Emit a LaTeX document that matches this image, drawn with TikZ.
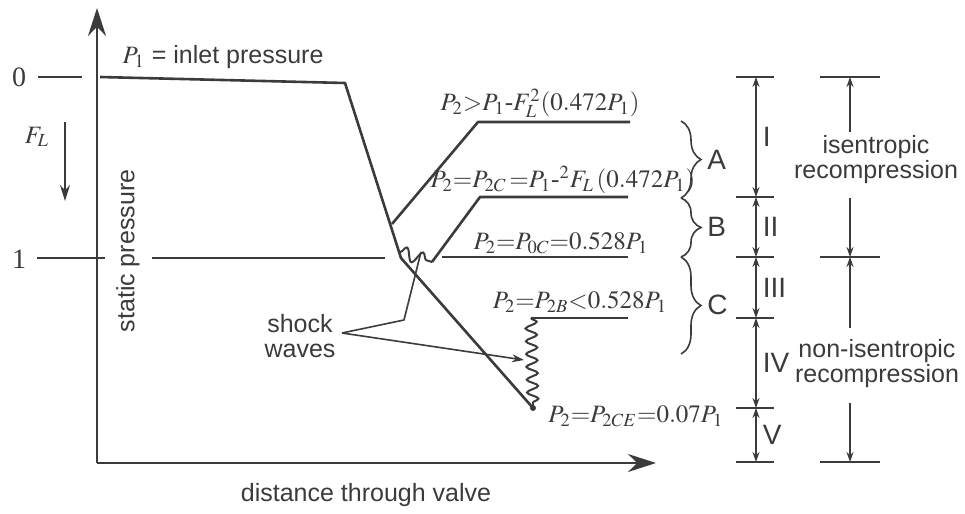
\documentclass[tikz,border=0pt]{standalone}
\usepackage{mathptmx}
\usepackage[no-math]{fontspec}
\setmainfont{Liberation Serif}
\setsansfont{Liberation Sans}
\usetikzlibrary{arrows.meta,positioning,calc,decorations.pathmorphing,decorations.pathreplacing}
\definecolor{ink}{HTML}{3B3B3B}
\tikzset{
  txt/.style={font=\sffamily\fontsize{12.5}{12.5}\selectfont,text=ink,inner sep=1pt},
  roman/.style={font=\sffamily\fontsize{14}{15}\selectfont,text=ink,inner sep=1pt},
  eq/.style={font=\fontsize{12.5}{14}\selectfont,text=ink,inner sep=1pt},
  num/.style={font=\fontsize{14}{15}\selectfont,text=ink,inner sep=1pt},
  axis/.style={draw=ink,line width=0.8pt,-{Stealth[length=14pt,width=9pt]}},
  curve/.style={draw=ink,line width=1.3pt,line join=round},
  level/.style={draw=ink,line width=0.6pt},
  tickmark/.style={draw=ink,line width=0.6pt},
  dim/.style={draw=ink,line width=0.8pt,{Stealth[length=5pt,width=3.5pt]}-{Stealth[length=5pt,width=3.5pt]}},
  dimarr/.style={draw=ink,line width=0.8pt,-{Stealth[length=5pt,width=3.5pt]}},
  wave/.style={draw=ink,line width=1pt,decorate,decoration={snake,amplitude=2.8pt,segment length=6.4pt}},
  brc/.style={draw=ink,line width=0.8pt,decorate,decoration={brace,amplitude=10pt}},
  ptr/.style={draw=ink,line width=0.8pt,line join=round}
}
\begin{document}
\begin{tikzpicture}[x=0.5pt,y=-0.5pt]
\useasboundingbox (0,0) rectangle (965,514);
% axes
\coordinate (orig) at (97,463);
\coordinate (ytop) at (97,8);
\coordinate (xend) at (656,463);
\draw[axis] (orig) -- (ytop);
\draw[axis] (orig) -- (xend);
\node[txt] (xlab) at (366,495) {distance through valve};
\node[txt,rotate=90] (ylab) at (128,251) {static pressure};

% F_L scale on the left
\node[num] (zero) at (19,77) {0};
\node[num] (one) at (19,259) {1};
\coordinate (zeroA) at (38,77); \coordinate (zeroB) at (82,77);
\coordinate (oneA) at (37,258); \coordinate (oneB) at (105,258);
\coordinate (oneC) at (152,258); \coordinate (oneD) at (385,258);
\draw[level] (zeroA) -- (zeroB);
\draw[level] (oneA) -- (oneB);
\draw[level] (oneC) -- (oneD);
\node[eq] (fl) at (37,137) {$F_L$};
\coordinate (flA) at (65,122); \coordinate (flB) at (65,201);
\draw[dimarr,-{Stealth[length=8pt,width=5pt]}] (flA) -- (flB);

% pressure profile
\coordinate (p0) at (100,77);
\coordinate (p1) at (345,83);
\coordinate (p2) at (401,258);
\coordinate (p3) at (533,408);
\draw[curve] (p0) -- (p1) -- (p2) -- (p3);
\fill[ink] (p3) circle (3);
\node[txt] (inlet) at (223,57) {$P_1$ = inlet pressure};

% recovery branches
\coordinate (a0) at (392,224); \coordinate (a1) at (478,122); \coordinate (a2) at (630,122);
\coordinate (b0) at (432,262); \coordinate (b1) at (480,197); \coordinate (b2) at (628,197);
\coordinate (c0) at (442,257); \coordinate (c1) at (628,257);
\coordinate (d0) at (531,318); \coordinate (d1) at (628,318);
\coordinate (s0) at (400,252);
\draw[curve] (a0) -- (a1) -- (a2);
\draw[curve] (b0) -- (b1) -- (b2);
\draw[curve] (c0) -- (c1);
\draw[curve] (d0) -- (d1);
\draw[wave,decoration={segment length=8.5pt,amplitude=3.2pt}] (s0) -- (b0);
\draw[wave] (d0) -- (p3);

\node[eq] (eqA) at (540,103) {$P_2{>}P_1\mbox{-}F_L^2(0.472P_1)$};
\node[eq] (eqB) at (563,180) {$P_2{=}P_{2C}\,{=}P_1\mbox{-}^{2}F_L\,(0.472P_1)$};
\node[eq] (eqC) at (561,243) {$P_2{=}P_{0C}{=}0.528P_1$};
\node[eq] (eqD) at (580,302) {$P_2{=}P_{2B}{<}0.528P_1$};
\node[eq,anchor=west] (eqE) at (546,416) {$P_2{=}P_{2CE}{=}0.07P_1$};

% shock waves pointers
\node[txt,align=center] (shk) at (300,336) {shock\\waves};
\coordinate (ptr0) at (342,333);
\coordinate (ptr1) at (404,320);
\coordinate (ptr2) at (421,252);
\coordinate (ptr3) at (524,360);
\draw[ptr] (ptr2) -- (ptr1) -- (ptr0);
\draw[ptr,-{Stealth[length=6pt,width=4pt]}] (ptr0) -- (ptr3);

% braces A B C
\coordinate (k0) at (681,121); \coordinate (k1) at (681,198);
\coordinate (k2) at (681,257); \coordinate (k3) at (681,354);
\draw[brc] (k0) -- (k1);
\draw[brc] (k1) -- (k2);
\draw[brc] (k2) -- (k3);
\node[roman,anchor=west] (bA) at (705,160) {A};
\node[roman,anchor=west] (bB) at (705,227) {B};
\node[roman,anchor=west] (bC) at (705,305) {C};

% regions I to V
\foreach \y [count=\i] in {77,197,257,318,408,462}{
  \coordinate (l\i) at (756,\y);
  \draw[tickmark] ([xshift=-10pt]l\i) -- ([xshift=9pt]l\i);
}
\foreach \a/\b/\lab in {1/2/I,2/3/II,3/4/III,4/5/IV,5/6/V}{
  \draw[dim] (l\a) -- (l\b) node[midway,right=2pt,roman] (r\a) {\lab};
}

% isentropic / non-isentropic
\coordinate (m1) at (850,77); \coordinate (m2) at (850,257); \coordinate (m3) at (850,462);
\coordinate (e1) at (850,132); \coordinate (e2) at (850,198);
\coordinate (e3) at (850,328); \coordinate (e4) at (850,403);
\foreach \i in {1,2,3}{
  \draw[tickmark] ([xshift=-15pt]m\i) -- ([xshift=15pt]m\i);
}
\node[txt,align=center] (isen) at (876,160) {isentropic\\recompression};
\node[txt,align=center] (noisen) at (877,364) {non-isentropic\\recompression};
\draw[dimarr] (e1) -- (m1);
\draw[dimarr] (e2) -- (m2);
\draw[dimarr] (e3) -- (m2);
\draw[dimarr] (e4) -- (m3);
\end{tikzpicture}
\end{document}
